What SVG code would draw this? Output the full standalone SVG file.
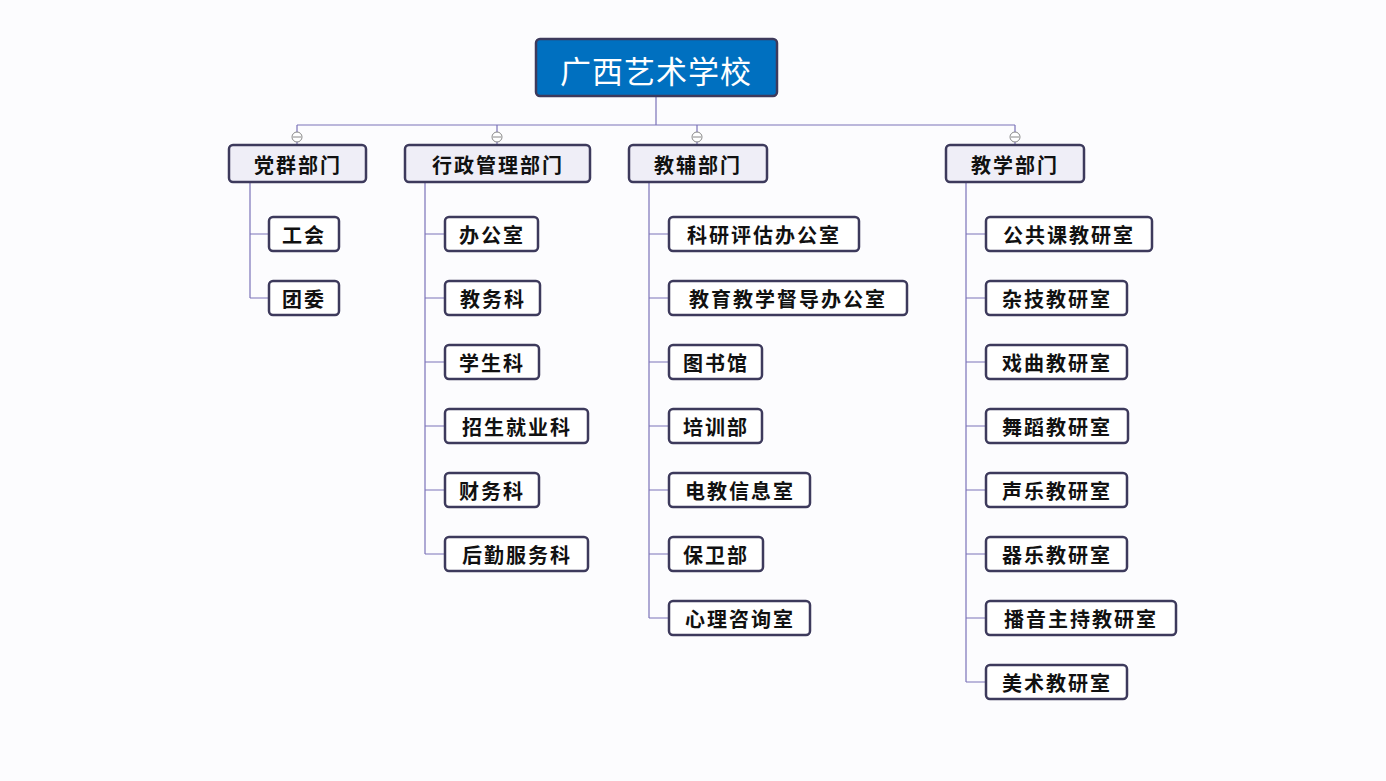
<svg xmlns="http://www.w3.org/2000/svg" width="1386" height="781" viewBox="0 0 1386 781">
<style>
text{font-family:"Noto Sans CJK SC",sans-serif;font-size:20px;font-weight:bold;fill:#111;text-anchor:middle;dominant-baseline:central;letter-spacing:2px}
.b{fill:#fff;stroke:#3d3a5c;stroke-width:2.5}
.d{fill:#efeef7;stroke:#3d3a5c;stroke-width:2.5}
.l{stroke:#7b72b8;stroke-width:1.2;fill:none}
.c{fill:#fff;stroke:#888;stroke-width:1}
</style>
<rect width="1386" height="781" fill="#fcfcfe"/>
<g id="connectors">
<path class="l" d="M656 96V125M297 125H1015M297 125V145M497 125V145M697 125V145M1015 125V145"/>
<path class="l" d="M250 182V298M250 234H269M250 298H269"/>
<path class="l" d="M425 182V554M425 234H445M425 298H445M425 362H445M425 426H445M425 490H445M425 554H445"/>
<path class="l" d="M649 182V618M649 234H669M649 298H669M649 362H669M649 426H669M649 490H669M649 554H669M649 618H669"/>
<path class="l" d="M966 182V682M966 234H986M966 298H986M966 362H986M966 426H986M966 490H986M966 554H986M966 618H986M966 682H986"/>
<g><circle class="c" cx="297" cy="137" r="5"/><circle class="c" cx="497" cy="137" r="5"/><circle class="c" cx="697" cy="137" r="5"/><circle class="c" cx="1015" cy="137" r="5"/>
<path stroke="#888" d="M293 137H301M493 137H501M693 137H701M1011 137H1019"/></g>
</g>
<g id="root"><rect x="536" y="39" width="241" height="57" rx="4" fill="#0070c0" stroke="#3d3a5c" stroke-width="2.5"/><text x="656" y="69" style="fill:#fff;font-size:31px;font-weight:normal;letter-spacing:1px">广西艺术学校</text></g>
<g id="d1"><rect class="d" x="229" y="145" width="137" height="37" rx="4"/><text x="298" y="164">党群部门</text></g>
<g id="d2"><rect class="d" x="405" y="145" width="185" height="37" rx="4"/><text x="498" y="164">行政管理部门</text></g>
<g id="d3"><rect class="d" x="629" y="145" width="138" height="37" rx="4"/><text x="698" y="164">教辅部门</text></g>
<g id="d4"><rect class="d" x="946" y="145" width="138" height="37" rx="4"/><text x="1015" y="164">教学部门</text></g>
<g id="n1"><rect class="b" x="269" y="217" width="70" height="34" rx="4"/><text x="304" y="234">工会</text></g>
<g id="n2"><rect class="b" x="269" y="281" width="70" height="34" rx="4"/><text x="304" y="298">团委</text></g>
<g id="n3"><rect class="b" x="445" y="217" width="93" height="34" rx="4"/><text x="492" y="234">办公室</text></g>
<g id="n4"><rect class="b" x="445" y="281" width="95" height="34" rx="4"/><text x="493" y="298">教务科</text></g>
<g id="n5"><rect class="b" x="445" y="345" width="94" height="34" rx="4"/><text x="492" y="362">学生科</text></g>
<g id="n6"><rect class="b" x="445" y="409" width="143" height="34" rx="4"/><text x="517" y="426">招生就业科</text></g>
<g id="n7"><rect class="b" x="445" y="473" width="94" height="34" rx="4"/><text x="492" y="490">财务科</text></g>
<g id="n8"><rect class="b" x="445" y="537" width="143" height="34" rx="4"/><text x="517" y="554">后勤服务科</text></g>
<g id="n9"><rect class="b" x="669" y="217" width="190" height="34" rx="4"/><text x="764" y="234">科研评估办公室</text></g>
<g id="n10"><rect class="b" x="669" y="281" width="238" height="34" rx="4"/><text x="788" y="298">教育教学督导办公室</text></g>
<g id="n11"><rect class="b" x="669" y="345" width="93" height="34" rx="4"/><text x="716" y="362">图书馆</text></g>
<g id="n12"><rect class="b" x="669" y="409" width="93" height="34" rx="4"/><text x="716" y="426">培训部</text></g>
<g id="n13"><rect class="b" x="669" y="473" width="141" height="34" rx="4"/><text x="740" y="490">电教信息室</text></g>
<g id="n14"><rect class="b" x="669" y="537" width="94" height="34" rx="4"/><text x="716" y="554">保卫部</text></g>
<g id="n15"><rect class="b" x="669" y="601" width="141" height="34" rx="4"/><text x="740" y="618">心理咨询室</text></g>
<g id="n16"><rect class="b" x="986" y="217" width="166" height="34" rx="4"/><text x="1069" y="234">公共课教研室</text></g>
<g id="n17"><rect class="b" x="986" y="281" width="141" height="34" rx="4"/><text x="1057" y="298">杂技教研室</text></g>
<g id="n18"><rect class="b" x="986" y="345" width="141" height="34" rx="4"/><text x="1057" y="362">戏曲教研室</text></g>
<g id="n19"><rect class="b" x="986" y="409" width="142" height="34" rx="4"/><text x="1057" y="426">舞蹈教研室</text></g>
<g id="n20"><rect class="b" x="986" y="473" width="141" height="34" rx="4"/><text x="1057" y="490">声乐教研室</text></g>
<g id="n21"><rect class="b" x="986" y="537" width="141" height="34" rx="4"/><text x="1057" y="554">器乐教研室</text></g>
<g id="n22"><rect class="b" x="986" y="601" width="190" height="34" rx="4"/><text x="1081" y="618">播音主持教研室</text></g>
<g id="n23"><rect class="b" x="986" y="665" width="141" height="34" rx="4"/><text x="1057" y="682">美术教研室</text></g>
</svg>
